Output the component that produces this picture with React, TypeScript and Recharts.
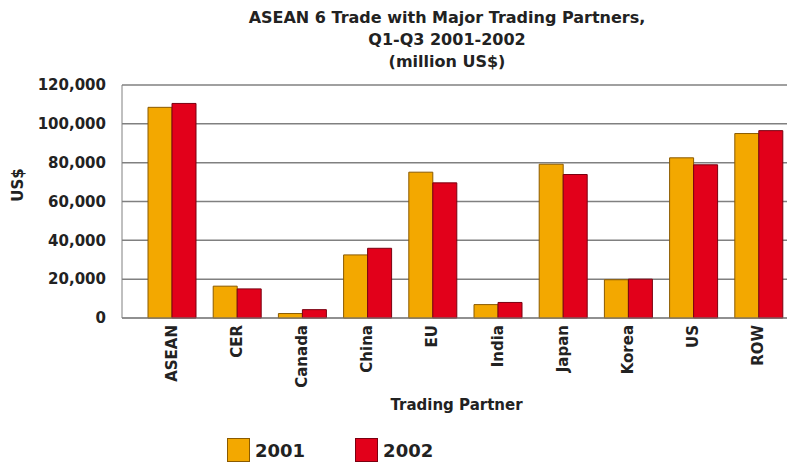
import { BarChart, Bar, XAxis, YAxis, CartesianGrid, Legend, Label } from 'recharts'

const partners = ['ASEAN', 'CER', 'Canada', 'China', 'EU', 'India', 'Japan', 'Korea', 'US', 'ROW']
const trade2001 = [108500, 16400, 2300, 32500, 75100, 6900, 79200, 19700, 82500, 95000]
const trade2002 = [110500, 15000, 4300, 35900, 69600, 8000, 73900, 20000, 78900, 96500]
const yTicks = [0, 20000, 40000, 60000, 80000, 100000, 120000]

const data = partners.map((name, i) => ({ name, y2001: trade2001[i], y2002: trade2002[i] }))

const FONT = '"DejaVu Sans", sans-serif'
const ORANGE = '#f3a800'
const RED = '#e2001a'

function PartnerTick({ x, y, payload }: any) {
    const ty = y - 1
    return (
        <text
            x={x}
            y={ty}
            transform={`rotate(-90 ${x} ${ty})`}
            textAnchor="end"
            dominantBaseline="central"
            fontFamily={FONT}
            fontWeight="bold"
            fontSize={15}
            fill="#222"
        >
            {payload.value}
        </text>
    )
}

function LegendBox() {
    const items = [
        { label: '2001', color: ORANGE, border: '#8a5a00' },
        { label: '2002', color: RED, border: '#7a0010' },
    ]
    return (
        <div style={{ display: 'flex', alignItems: 'center', paddingLeft: 227, fontFamily: FONT }}>
            {items.map((it) => (
                <div key={it.label} style={{ display: 'flex', alignItems: 'center', marginRight: 50 }}>
                    <span
                        style={{
                            display: 'inline-block',
                            width: 21,
                            height: 22,
                            background: it.color,
                            border: `1px solid ${it.border}`,
                            marginRight: 5,
                        }}
                    />
                    <span style={{ fontSize: 18, fontWeight: 'bold', color: '#222' }}>{it.label}</span>
                </div>
            ))}
        </div>
    )
}

export default function App() {
    return (
        <div style={{ position: 'absolute', top: 0, left: 0, width: 787, height: 463, overflow: 'hidden', background: '#fff' }}>
            <div
                style={{
                    position: 'absolute',
                    top: 7,
                    left: 100,
                    width: 694,
                    textAlign: 'center',
                    fontFamily: FONT,
                    fontWeight: 'bold',
                    fontSize: 16,
                    lineHeight: '22px',
                    color: '#222',
                }}
            >
                ASEAN 6 Trade with Major Trading Partners,
                <br />
                Q1-Q3 2001-2002
                <br />
                (million US$)
            </div>
            <BarChart width={800} height={463} data={data} margin={{ top: 85, right: 9, left: 0, bottom: 45 }} barSize={24} barGap={0}>
                <CartesianGrid vertical={false} stroke="#808080" strokeWidth={1.5} />
                <XAxis
                    dataKey="name"
                    interval={0}
                    height={100}
                    padding={{ left: 17, right: 0 }}
                    tick={<PartnerTick />}
                    tickLine={false}
                    axisLine={{ stroke: '#808080' }}
                >
                    <Label
                        value="Trading Partner"
                        position="insideBottom"
                        offset={8}
                        style={{ fontFamily: FONT, fontWeight: 'bold', fontSize: 15, fill: '#222' }}
                    />
                </XAxis>
                <YAxis
                    width={122}
                    domain={[0, 120000]}
                    ticks={yTicks}
                    tickFormatter={(v: number) => v.toLocaleString('en-US')}
                    tickLine={false}
                    axisLine={{ stroke: '#808080' }}
                    tick={{ fontFamily: FONT, fontWeight: 'bold', fontSize: 15, fill: '#222' }}
                    tickMargin={10}
                >
                    <Label
                        content={() => (
                            <text
                                x={18}
                                y={185}
                                transform="rotate(-90 18 185)"
                                textAnchor="middle"
                                dominantBaseline="central"
                                fontFamily={FONT}
                                fontWeight="bold"
                                fontSize={15}
                                fill="#222"
                            >
                                US$
                            </text>
                        )}
                    />
                </YAxis>
                <Legend
                    verticalAlign="middle"
                    align="center"
                    content={() => <LegendBox />}
                    wrapperStyle={{ top: 438, left: 0, width: 787 }}
                />
                <Bar dataKey="y2001" name="2001" fill={ORANGE} stroke="#8a5a00" strokeWidth={1} isAnimationActive={false} />
                <Bar dataKey="y2002" name="2002" fill={RED} stroke="#7a0010" strokeWidth={1} isAnimationActive={false} />
            </BarChart>
        </div>
    )
}
